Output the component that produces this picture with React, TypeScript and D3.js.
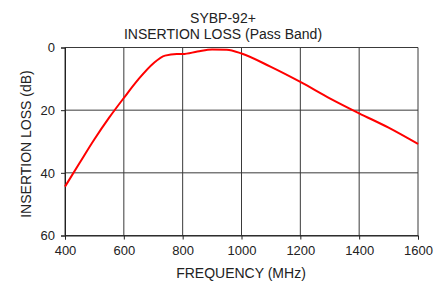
import React, { useEffect, useRef } from 'react';
import * as d3 from 'd3';

// insertion loss
const freqs = [400, 450, 500, 550, 600, 650, 700, 740, 780, 800, 850, 900, 950, 1000, 1100, 1200, 1300, 1400, 1500, 1600];
const loss = [44.4, 36.8, 29.3, 22.4, 16.1, 10.1, 5.1, 2.6, 2.1, 2.1, 1.3, 0.6, 0.7, 1.9, 6.2, 11.0, 16.2, 21.0, 25.6, 30.8];
const xTicks = [400, 600, 800, 1000, 1200, 1400, 1600];
const yTicks = [0, 20, 40, 60];
const titleLines = ['SYBP-92+', 'INSERTION LOSS (Pass Band)'];

const App = () => {
  const svgRef = useRef<SVGSVGElement>(null);

  useEffect(() => {
    const svg = d3.select(svgRef.current);
    svg.selectAll('*').remove();

    const width = 447;
    const height = 284;
    const margin = { top: 47.5, right: 29, bottom: 48.5, left: 65 };
    const innerWidth = width - margin.left - margin.right;
    const innerHeight = height - margin.top - margin.bottom;
    const font = 'Arial, "Liberation Sans", sans-serif';

    const x = d3.scaleLinear().domain([400, 1600]).range([0, innerWidth]);
    const y = d3.scaleLinear().domain([0, 60]).range([0, innerHeight]);

    const g = svg.append('g').attr('transform', `translate(${margin.left},${margin.top})`);

    // grid
    g.selectAll('.vgrid')
      .data(xTicks)
      .enter()
      .append('line')
      .attr('x1', d => x(d))
      .attr('x2', d => x(d))
      .attr('y1', 0)
      .attr('y2', innerHeight)
      .attr('stroke', '#3a3a3a')
      .attr('stroke-width', 1);

    g.selectAll('.hgrid')
      .data(yTicks)
      .enter()
      .append('line')
      .attr('x1', 0)
      .attr('x2', innerWidth)
      .attr('y1', d => y(d))
      .attr('y2', d => y(d))
      .attr('stroke', '#3a3a3a')
      .attr('stroke-width', 1);

    // axes
    const xAxis = g.append('g')
      .attr('transform', `translate(0,${innerHeight})`)
      .call(d3.axisBottom(x).tickValues(xTicks).tickSize(4).tickPadding(6).tickFormat(d3.format('d')));
    const yAxis = g.append('g')
      .call(d3.axisLeft(y).tickValues(yTicks).tickSize(4).tickPadding(6).tickFormat(d3.format('d')));

    [xAxis, yAxis].forEach(a => {
      a.select('.domain').attr('stroke', '#222');
      a.selectAll('.tick line').attr('stroke', '#222');
      a.selectAll('text')
        .attr('font-family', font)
        .attr('font-size', 13)
        .attr('fill', '#222');
    });

    // curve
    const line = d3.line<number>()
      .x((d, i) => x(freqs[i]))
      .y(d => y(d))
      .curve(d3.curveMonotoneX);

    g.append('path')
      .datum(loss)
      .attr('d', line)
      .attr('fill', 'none')
      .attr('stroke', '#ff0000')
      .attr('stroke-width', 2);

    // titles
    svg.selectAll('.title')
      .data(titleLines)
      .enter()
      .append('text')
      .attr('x', 223)
      .attr('y', (d, i) => 22.5 + i * 16.5)
      .attr('text-anchor', 'middle')
      .attr('font-family', font)
      .attr('font-size', 14)
      .attr('fill', '#222')
      .text(d => d);

    svg.append('text')
      .attr('x', 241)
      .attr('y', 277.5)
      .attr('text-anchor', 'middle')
      .attr('font-family', font)
      .attr('font-size', 14)
      .attr('fill', '#222')
      .text('FREQUENCY (MHz)');

    svg.append('text')
      .attr('transform', 'rotate(-90)')
      .attr('x', -144)
      .attr('y', 31)
      .attr('text-anchor', 'middle')
      .attr('font-family', font)
      .attr('font-size', 14)
      .attr('fill', '#222')
      .text('INSERTION LOSS (dB)');
  }, []);

  return (
    <svg
      ref={svgRef}
      width={447}
      height={284}
      style={{ position: 'absolute', left: 0, top: 0, background: '#fff' }}
    />
  );
};

export default App;
